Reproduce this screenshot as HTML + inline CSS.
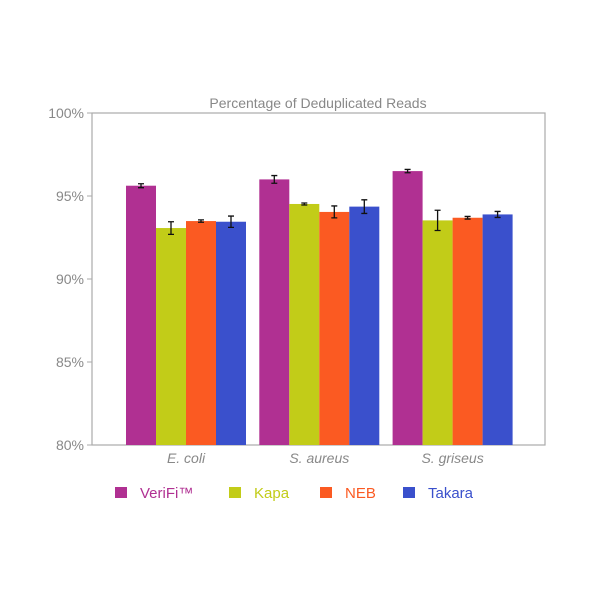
<!DOCTYPE html>
<html><head><meta charset="utf-8"><style>
body{margin:0;background:#fff;font-family:"Liberation Sans",sans-serif}
svg text{font-family:"Liberation Sans",sans-serif}
</style></head><body>
<svg width="600" height="600" id="c">
<rect x="0" y="0" width="600" height="600" fill="#fff"/>
<text x="318" y="108" text-anchor="middle" font-size="14" fill="#888">Percentage of Deduplicated Reads</text>
<rect x="92" y="113" width="453" height="332" fill="none" stroke="#aaa" stroke-width="1.2"/>
<g id="bars"></g>
<g id="legend"></g>
</svg>
<script>
const categories=["E. coli","S. aureus","S. griseus"];
const seriesNames=["VeriFi™","Kapa","NEB","Takara"];
const colors=["#b03092","#c2cc18","#fb5a22","#3a50cc"];
const verifi=[95.62,96.0,96.5];
const kapa=[93.07,94.52,93.53];
const neb=[93.49,94.04,93.69];
const takara=[93.45,94.36,93.89];
const verifiErr=[0.12,0.23,0.1];
const kapaErr=[0.38,0.06,0.61];
const nebErr=[0.07,0.36,0.08];
const takaraErr=[0.34,0.41,0.18];
const yTicks=[80,85,90,95,100];
const values=[verifi,kapa,neb,takara];
const errs=[verifiErr,kapaErr,nebErr,takaraErr];
const NS="http://www.w3.org/2000/svg";
const svg=document.getElementById('c'),g=document.getElementById('bars'),lg=document.getElementById('legend');
const y=v=>445-(v-80)*(332/20);
const xc=i=>186+i*133.3;
const bw=30;
function mk(t,a,p){const e=document.createElementNS(NS,t);for(const k in a)e.setAttribute(k,a[k]);(p||g).appendChild(e);return e;}
yTicks.forEach(t=>{
 const tk=mk('line',{x1:87,x2:92,y1:y(t),y2:y(t),stroke:'#aaa'});
 
 
 const l=mk('text',{x:84,y:y(t)+5,'text-anchor':'end','font-size':14,fill:'#888'});
 l.textContent=t+'%';
 
 
});
categories.forEach((c,i)=>{
 const l=mk('text',{x:xc(i),y:463,'text-anchor':'middle','font-size':14,'font-style':'italic',fill:'#888'});
 l.textContent=c;
 
 
 values.forEach((s,j)=>{
  const x0=xc(i)-60+j*bw;
  const r=mk('rect',{x:x0,y:y(s[i]),width:bw,height:445-y(s[i]),fill:colors[j]});
  
  
  const cx=x0+bw/2,t=y(s[i]+errs[j][i]),b=y(s[i]-errs[j][i]);
  const eb=mk('path',{d:`M${cx},${t}V${b}M${cx-3},${t}H${cx+3}M${cx-3},${b}H${cx+3}`,stroke:'#111','stroke-width':1.3,fill:'none'});
  
  
 });
});
const lx=[115,229,320,403];
seriesNames.forEach((n,j)=>{
 const s=mk('rect',{x:lx[j],y:487,width:12,height:11,fill:colors[j]},lg);
 
 
 const t=mk('text',{x:lx[j]+25,y:498,'font-size':15,fill:colors[j]},lg);
 t.textContent=n;
 
 
});
</script>
</body></html>
